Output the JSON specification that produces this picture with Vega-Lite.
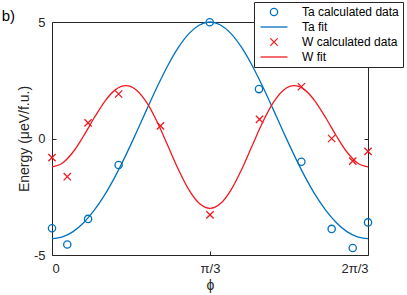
{
  "$schema": "https://vega.github.io/schema/vega-lite/v6.json",
  "width": 316,
  "height": 233,
  "autosize": {"type": "none"},
  "padding": {"left": 52, "top": 22, "right": 39, "bottom": 40},
  "datasets": {
    "pts": [
      {"phi": 0, "E": -3.85, "series": "Ta calculated data"},
      {"phi": 5.8, "E": -4.55, "series": "Ta calculated data"},
      {"phi": 13.7, "E": -3.45, "series": "Ta calculated data"},
      {"phi": 25.3, "E": -1.14, "series": "Ta calculated data"},
      {"phi": 59.9, "E": 4.99, "series": "Ta calculated data"},
      {"phi": 78.6, "E": 2.12, "series": "Ta calculated data"},
      {"phi": 94.7, "E": -1.0, "series": "Ta calculated data"},
      {"phi": 106.2, "E": -3.88, "series": "Ta calculated data"},
      {"phi": 114.2, "E": -4.7, "series": "Ta calculated data"},
      {"phi": 120, "E": -3.6, "series": "Ta calculated data"},
      {"phi": 0, "E": -0.82, "series": "W calculated data"},
      {"phi": 5.8, "E": -1.64, "series": "W calculated data"},
      {"phi": 13.7, "E": 0.67, "series": "W calculated data"},
      {"phi": 25.3, "E": 1.91, "series": "W calculated data"},
      {"phi": 41.2, "E": 0.54, "series": "W calculated data"},
      {"phi": 60, "E": -3.28, "series": "W calculated data"},
      {"phi": 78.8, "E": 0.82, "series": "W calculated data"},
      {"phi": 94.7, "E": 2.22, "series": "W calculated data"},
      {"phi": 106.2, "E": 0.0, "series": "W calculated data"},
      {"phi": 114.2, "E": -0.97, "series": "W calculated data"},
      {"phi": 120, "E": -0.55, "series": "W calculated data"}
    ],
    "fits": [
      {"phi": 0, "E": -4.300, "series": "Ta fit"},
      {"phi": 4, "E": -4.224, "series": "Ta fit"},
      {"phi": 8, "E": -3.996, "series": "Ta fit"},
      {"phi": 12, "E": -3.617, "series": "Ta fit"},
      {"phi": 16, "E": -3.089, "series": "Ta fit"},
      {"phi": 20, "E": -2.421, "series": "Ta fit"},
      {"phi": 24, "E": -1.624, "series": "Ta fit"},
      {"phi": 28, "E": -0.724, "series": "Ta fit"},
      {"phi": 32, "E": 0.248, "series": "Ta fit"},
      {"phi": 36, "E": 1.250, "series": "Ta fit"},
      {"phi": 40, "E": 2.229, "series": "Ta fit"},
      {"phi": 44, "E": 3.133, "series": "Ta fit"},
      {"phi": 48, "E": 3.907, "series": "Ta fit"},
      {"phi": 52, "E": 4.500, "series": "Ta fit"},
      {"phi": 56, "E": 4.872, "series": "Ta fit"},
      {"phi": 60, "E": 5.000, "series": "Ta fit"},
      {"phi": 64, "E": 4.872, "series": "Ta fit"},
      {"phi": 68, "E": 4.500, "series": "Ta fit"},
      {"phi": 72, "E": 3.907, "series": "Ta fit"},
      {"phi": 76, "E": 3.133, "series": "Ta fit"},
      {"phi": 80, "E": 2.229, "series": "Ta fit"},
      {"phi": 84, "E": 1.250, "series": "Ta fit"},
      {"phi": 88, "E": 0.248, "series": "Ta fit"},
      {"phi": 92, "E": -0.724, "series": "Ta fit"},
      {"phi": 96, "E": -1.624, "series": "Ta fit"},
      {"phi": 100, "E": -2.421, "series": "Ta fit"},
      {"phi": 104, "E": -3.089, "series": "Ta fit"},
      {"phi": 108, "E": -3.617, "series": "Ta fit"},
      {"phi": 112, "E": -3.996, "series": "Ta fit"},
      {"phi": 116, "E": -4.224, "series": "Ta fit"},
      {"phi": 120, "E": -4.300, "series": "Ta fit"},
      {"phi": 0, "E": -1.220, "series": "W fit"},
      {"phi": 4, "E": -1.052, "series": "W fit"},
      {"phi": 8, "E": -0.580, "series": "W fit"},
      {"phi": 12, "E": 0.108, "series": "W fit"},
      {"phi": 16, "E": 0.880, "series": "W fit"},
      {"phi": 20, "E": 1.587, "series": "W fit"},
      {"phi": 24, "E": 2.087, "series": "W fit"},
      {"phi": 28, "E": 2.272, "series": "W fit"},
      {"phi": 32, "E": 2.086, "series": "W fit"},
      {"phi": 36, "E": 1.537, "series": "W fit"},
      {"phi": 40, "E": 0.697, "series": "W fit"},
      {"phi": 44, "E": -0.311, "series": "W fit"},
      {"phi": 48, "E": -1.332, "series": "W fit"},
      {"phi": 52, "E": -2.206, "series": "W fit"},
      {"phi": 56, "E": -2.793, "series": "W fit"},
      {"phi": 60, "E": -3.000, "series": "W fit"},
      {"phi": 64, "E": -2.793, "series": "W fit"},
      {"phi": 68, "E": -2.206, "series": "W fit"},
      {"phi": 72, "E": -1.332, "series": "W fit"},
      {"phi": 76, "E": -0.311, "series": "W fit"},
      {"phi": 80, "E": 0.697, "series": "W fit"},
      {"phi": 84, "E": 1.537, "series": "W fit"},
      {"phi": 88, "E": 2.086, "series": "W fit"},
      {"phi": 92, "E": 2.272, "series": "W fit"},
      {"phi": 96, "E": 2.087, "series": "W fit"},
      {"phi": 100, "E": 1.587, "series": "W fit"},
      {"phi": 104, "E": 0.880, "series": "W fit"},
      {"phi": 108, "E": 0.108, "series": "W fit"},
      {"phi": 112, "E": -0.580, "series": "W fit"},
      {"phi": 116, "E": -1.052, "series": "W fit"},
      {"phi": 120, "E": -1.220, "series": "W fit"}
    ]
  },
  "layer": [
    {
      "mark": {"type": "rule", "color": "#e2e2e2", "strokeWidth": 1},
      "encoding": {
        "y": {"datum": 0, "type": "quantitative",
          "axis": {"orient": "right", "values": [0], "labels": false, "title": null, "tickSize": -4}}
      }
    },
    {
      "data": {"name": "pts"},
      "mark": {"type": "point", "filled": false, "strokeWidth": 1.3, "size": 53, "opacity": 1},
      "encoding": {
        "x": {"field": "phi", "type": "quantitative", "scale": {"domain": [0, 120], "nice": false},
          "axis": {"values": [0, 60, 120], "title": "ϕ", "tickSize": -4, "labelPadding": 11, "titlePadding": 3,
            "labelExpr": "datum.value == 0 ? '0' : datum.value == 60 ? 'π/3' : '2π/3'"}},
        "y": {"field": "E", "type": "quantitative", "scale": {"domain": [-5, 5], "nice": false},
          "axis": {"values": [-5, 0, 5], "title": "Energy (μeV/f.u.)", "tickSize": -4, "labelPadding": 11, "titlePadding": 2,
            "labelExpr": "replace(datum.label, '−', '-')"}},
        "color": {"field": "series", "type": "nominal",
          "scale": {"domain": ["Ta calculated data", "Ta fit", "W calculated data", "W fit"], "range": ["#0072BD", "#0072BD", "#f01a20", "#f01a20"]},
          "legend": {"title": null}},
        "shape": {"field": "series", "type": "nominal",
          "scale": {"domain": ["Ta calculated data", "Ta fit", "W calculated data", "W fit"],
            "range": ["M-3.7,0M1,0A1,1,0,1,1,-1,0A1,1,0,1,1,1,0Z", "M-3.7,0L3.7,0", "M-3.7,0M-1,-1L1,1M1,-1L-1,1", "M-3.7,0L3.7,0"]},
          "legend": {"title": null}}
      }
    },
    {
      "data": {"name": "fits"},
      "mark": {"type": "line", "strokeWidth": 1.3, "interpolate": "monotone"},
      "encoding": {
        "x": {"field": "phi", "type": "quantitative"},
        "y": {"field": "E", "type": "quantitative", "axis": null},
        "color": {"field": "series", "type": "nominal"}
      }
    },
    {
      "data": {"values": [{}]},
      "mark": {"type": "text", "text": "b)", "fontSize": 15, "align": "left", "baseline": "alphabetic", "color": "#000000", "font": "Liberation Sans"},
      "encoding": {
        "x": {"datum": -19.1, "type": "quantitative"},
        "y": {"datum": 5.04, "type": "quantitative", "axis": null}
      }
    }
  ],
  "resolve": {"axis": {"y": "independent"}},
  "config": {
    "font": "Liberation Sans",
    "view": {"stroke": "#262626", "strokeWidth": 1},
    "axis": {"domain": false, "grid": false, "labelFont": "Liberation Sans", "titleFont": "Liberation Sans", "labelFontSize": 13, "titleFontSize": 14, "titleFontWeight": "normal", "labelColor": "#262626", "titleColor": "#262626", "tickColor": "#262626", "tickWidth": 1},
    "legend": {
      "orient": "none", "legendX": 202, "legendY": -20,
      "strokeColor": "#262626", "fillColor": "#ffffff", "padding": 4,
      "labelFont": "Liberation Sans", "labelFontSize": 12, "labelColor": "#000000",
      "symbolSize": 53, "symbolOffset": 10, "labelOffset": 22, "rowPadding": 2, "symbolStrokeWidth": 1.3,
      "symbolFillColor": "transparent",
      "labelExpr": "datum.label + '       '"
    }
  }
}
